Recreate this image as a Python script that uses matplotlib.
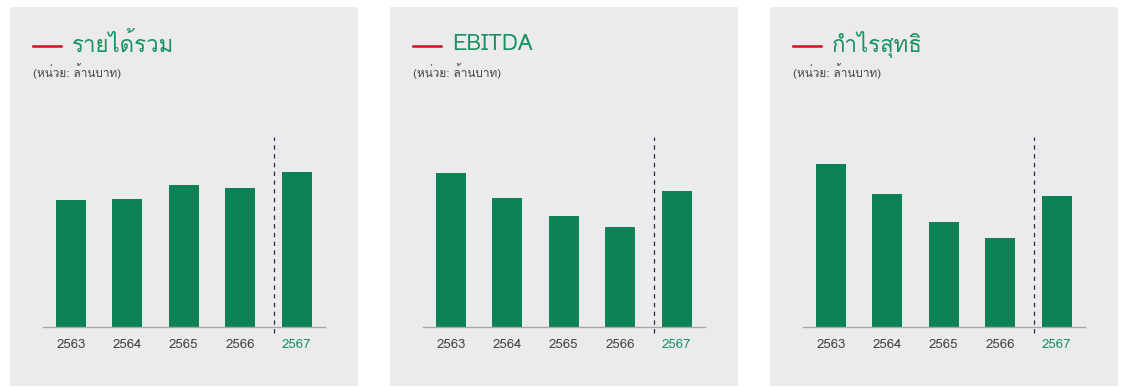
import matplotlib
matplotlib.use("Agg")
import matplotlib.pyplot as plt
from matplotlib import font_manager as fm
from matplotlib.patches import Rectangle
from matplotlib.lines import Line2D

# ---------------- data ----------------
years = ["2563", "2564", "2565", "2566", "2567"]
titles = ["รายได้รวม", "EBITDA", "กำไรสุทธิ"]
unit_label = "(หน่วย: ล้านบาท)"
revenue = [127, 127.7, 141.7, 139, 154.7]
ebitda = [153.7, 129, 111, 99.7, 135.7]
net_profit = [162.7, 133, 105.3, 89, 131]
series = [revenue, ebitda, net_profit]


# ---------------- fonts ----------------
def find_thai_font():
    try:
        from fontTools.ttLib import TTFont
    except Exception:
        return None
    for f in fm.fontManager.ttflist:
        try:
            tt = TTFont(f.fname, fontNumber=0, lazy=True)
            cmap = tt.getBestCmap()
            if cmap and 0x0E23 in cmap and 0x0E01 in cmap:
                return f.name
        except Exception:
            continue
    return None


thai = find_thai_font()
fam = ([thai] if thai else []) + ["DejaVu Sans"]
plt.rcParams["font.family"] = fam

W, H = 1123, 391
fig = plt.figure(figsize=(W / 100, H / 100), dpi=100)
fig.patch.set_facecolor("white")

BG = "#EBEBED"
GREEN = "#0E8257"
TITLE_GREEN = "#17935F"
RED = "#D0121B"


def fx(px):
    return px / W


def fy(py):
    return 1 - py / H


for i, (vals, title) in enumerate(zip(series, titles)):
    off = 380 * i
    # panel background
    fig.patches.append(Rectangle((fx(10 + off), fy(386)), fx(348), 379 / H,
                                 transform=fig.transFigure, facecolor=BG,
                                 edgecolor="none", zorder=-10))
    # title marker + title
    fig.add_artist(Line2D([fx(33 + off), fx(61 + off)], [fy(46), fy(46)],
                          color=RED, lw=1.8, transform=fig.transFigure))
    fig.text(fx(72 + off), fy(45), title, color=TITLE_GREEN, fontsize=16,
             va="center", ha="left", family=fam)
    fig.text(fx(33 + off), fy(71), unit_label, color="#444444", fontsize=8.5,
             va="center", ha="left", family=fam)

    # axes: x from 42.7 to 325, y from 137 (top) to 327 (baseline)
    ax = fig.add_axes([fx(42.7 + off), fy(327), fx(325 - 42.7), 190 / H])
    ax.set_zorder(5)
    ax.set_facecolor("none")
    x = list(range(len(years)))
    ax.bar(x, vals, width=0.53, color=GREEN, zorder=2)
    ax.set_xlim(-0.5, 4.5)
    ax.set_ylim(0, 190)
    for s in ["top", "right", "left"]:
        ax.spines[s].set_visible(False)
    ax.spines["bottom"].set_color("#A8A8A8")
    ax.spines["bottom"].set_linewidth(1.0)
    ax.set_yticks([])
    ax.set_xticks(x)
    ax.set_xticklabels(years, fontsize=9.5, color="#444444")
    ax.tick_params(axis="x", length=0, pad=9)
    ax.get_xticklabels()[-1].set_color(TITLE_GREEN)
    ax.axvline(3.59, ymin=-6 / 190, ymax=1.0, color="#2B2B3A", lw=0.9,
               ls=(0, (3.5, 3.5)), clip_on=False, zorder=3)

fig.savefig("out.png", dpi=100, facecolor="white")
